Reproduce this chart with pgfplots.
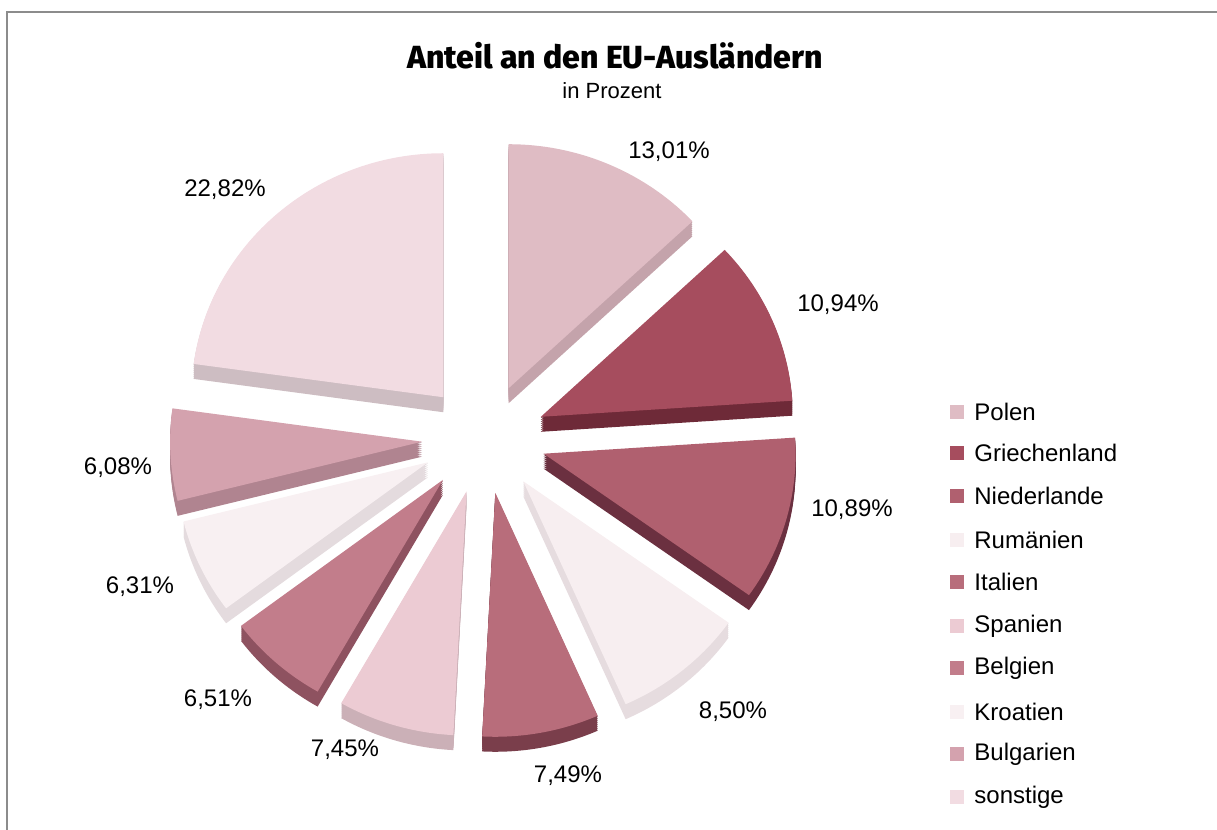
\documentclass[border=0pt]{standalone}
\usepackage{pgfplots}
\pgfplotsset{compat=1.18}
\usepackage{fontspec}
\setmainfont{Liberation Sans}
\newfontfamily\titlefont{Fira Sans}[UprightFont=* ExtraBold]
% top / side colours
\definecolor{Polen}{HTML}{DFBCC4}\definecolor{PolenS}{HTML}{C4A3AB}
\definecolor{Griech}{HTML}{A64D5E}\definecolor{GriechS}{HTML}{6E2A38}
\definecolor{Nieder}{HTML}{B0606F}\definecolor{NiederS}{HTML}{6B3040}
\definecolor{Rumaen}{HTML}{F7EEF0}\definecolor{RumaenS}{HTML}{E6DCDF}
\definecolor{Italien}{HTML}{B86D7B}\definecolor{ItalienS}{HTML}{7A3E4B}
\definecolor{Spanien}{HTML}{ECCBD3}\definecolor{SpanienS}{HTML}{CBB0B7}
\definecolor{Belgien}{HTML}{C27D8B}\definecolor{BelgienS}{HTML}{8E5260}
\definecolor{Kroat}{HTML}{F8F0F2}\definecolor{KroatS}{HTML}{E4DBDE}
\definecolor{Bulg}{HTML}{D4A2AE}\definecolor{BulgS}{HTML}{B08490}
\definecolor{Sonst}{HTML}{F2DCE2}\definecolor{SonstS}{HTML}{CDBDC2}
\definecolor{frame}{HTML}{8C8C8C}
\begin{document}
\begin{tikzpicture}
\begin{axis}[scale only axis, width=608.5pt, height=415pt,
  xmin=0, xmax=1217, ymin=0, ymax=830, hide axis, clip=false]
% frame
\draw[frame, line width=1.3pt] (axis cs:7,0) -- (axis cs:7,818) -- (axis cs:1217,818);
% pie slices (value in percent / colour)
\foreach \v/\col [remember=\e as \s (initially 0)] in
  {13.01/Polen, 10.94/Griech, 10.89/Nieder, 8.50/Rumaen, 7.49/Italien,
   7.45/Spanien, 6.51/Belgien, 6.31/Kroat, 6.08/Bulg, 22.82/Sonst} {
  \pgfmathsetmacro\e{\s+\v}
  \pgfmathsetmacro\aone{\s*3.6}
  \pgfmathsetmacro\atwo{\e*3.6}
  \pgfmathsetmacro\amid{(\aone+\atwo)/2}
  \pgfmathsetmacro\ax{484+62*sin(\amid)}
  \pgfmathsetmacro\ay{391.3+55*cos(\amid)}
  \pgfmathsetmacro\pone{90-\aone}
  \pgfmathsetmacro\ptwo{90-\atwo}
  \foreach \t in {15,13,...,1} {
    \pgfmathsetmacro\yy{\ay-\t}
    \edef\temp{\noexpand\fill[\col S] (axis cs:\ax,\yy) -- ++(\pone:126pt and 122pt)
      arc[start angle=\pone, end angle=\ptwo, x radius=126pt, y radius=122pt] -- cycle;}
    \temp
  }
  \edef\temp{\noexpand\fill[\col] (axis cs:\ax,\ay) -- ++(\pone:126pt and 122pt)
      arc[start angle=\pone, end angle=\ptwo, x radius=126pt, y radius=122pt] -- cycle;}
  \temp
}
% title
\node[font=\fontsize{16pt}{19pt}\titlefont] at (axis cs:615,774) {Anteil an den EU-Ausländern};
\node[font=\fontsize{11pt}{13pt}\selectfont] at (axis cs:612,739) {in Prozent};
% value labels
\begin{scope}[every node/.style={font=\fontsize{12pt}{14pt}\selectfont, inner sep=0pt}]
\node at (axis cs:669,678) {13,01\%};
\node at (axis cs:838,525) {10,94\%};
\node at (axis cs:852,320) {10,89\%};
\node at (axis cs:733,118) {8,50\%};
\node at (axis cs:568,54) {7,49\%};
\node at (axis cs:345,80) {7,45\%};
\node at (axis cs:218,130) {6,51\%};
\node at (axis cs:140,243) {6,31\%};
\node at (axis cs:118,362) {6,08\%};
\node at (axis cs:225,640) {22,82\%};
\end{scope}
% legend
\foreach \col/\name/\yy in {Polen/Polen/418, Griech/Griechenland/377, Nieder/Niederlande/334,
   Rumaen/Rumänien/290, Italien/Italien/248, Spanien/Spanien/204, Belgien/Belgien/162,
   Kroat/Kroatien/118, Bulg/Bulgarien/76, Sonst/sonstige/33} {
  \edef\temp{\noexpand\node[fill=\col, minimum size=7pt, inner sep=0pt] at (axis cs:957,\yy) {};
    \noexpand\node[anchor=west, inner sep=0pt, font=\noexpand\fontsize{12pt}{14pt}\noexpand\selectfont] at (axis cs:974,\yy) {\name};}
  \temp
}
\end{axis}
\pgfresetboundingbox
\useasboundingbox (current axis.south west) rectangle (current axis.north east);
\end{tikzpicture}
\end{document}
